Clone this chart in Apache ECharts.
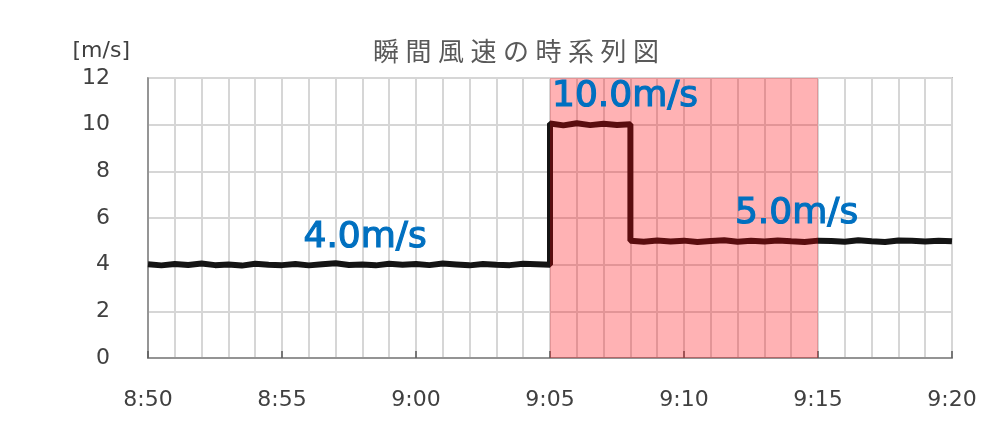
<!DOCTYPE html>
<html>
<head>
<meta charset="utf-8">
<script src="https://cdn.jsdelivr.net/npm/echarts@6/dist/echarts.min.js"></script>
<style>html,body{margin:0;padding:0;background:#fff;}#c{width:1001px;height:431px;}</style>
</head>
<body>
<div id="c"></div>
<script>
// minutes after 8:50
const times = [
  0,0.5,1,1.5,2,2.5,3,3.5,4,4.5,5,5.5,6,6.5,7,7.5,8,8.5,9,9.5,10,10.5,11,11.5,12,12.5,13,13.5,14,14.5,15,
  15,15.5,16,16.5,17,17.5,18,
  18,18.5,19,19.5,20,20.5,21,21.5,22,22.5,23,23.5,24,24.5,25,25.5,26,26.5,27,27.5,28,28.5,29,29.5,30
];
const speeds = [
  4.02,3.97,4.03,3.99,4.05,3.98,4.01,3.96,4.04,4.00,3.98,4.03,3.97,4.02,4.06,3.99,4.01,3.97,4.04,4.00,4.03,3.98,4.05,4.01,3.97,4.03,4.00,3.98,4.04,4.02,4.00,
  10.05,9.97,10.06,9.98,10.04,9.99,10.02,
  5.02,4.98,5.04,4.99,5.03,4.97,5.01,5.05,4.98,5.02,4.99,5.04,5.00,4.97,5.03,5.01,4.98,5.05,5.00,4.97,5.04,5.02,4.99,5.03,5.00
];
const xTickLabels = ['8:50','8:55','9:00','9:05','9:10','9:15','9:20'];
const highlightRange = [15, 25];
const annotations = [
  { text: '4.0m/s', x: 8.1, y: 5.15 },
  { text: '10.0m/s', x: 17.8, y: 11.2 },
  { text: '5.0m/s', x: 24.2, y: 6.2 }
];
const titleText = '瞬\u2005間\u2005風\u2005速\u2005の\u2005時\u2005系\u2005列\u2005図';

const chart = echarts.init(document.getElementById('c'), null, { renderer: 'canvas' });
const lineData = times.map((t, i) => [t, speeds[i]]);
const font = '"DejaVu Sans", sans-serif';

chart.setOption({
  animation: false,
  title: {
    text: titleText, left: 368, top: 33,
    textStyle: { fontFamily: '"Noto Sans CJK JP", sans-serif', fontSize: 26, fontWeight: 'normal', color: '#595959' }
  },
  grid: { left: 148, right: 49, top: 78, bottom: 73, show: true, borderColor: '#8c8c8c', borderWidth: 1.5, backgroundColor: 'transparent' },
  xAxis: {
    type: 'value', min: 0, max: 30, interval: 5,
    axisLine: { show: true, lineStyle: { color: '#7f7f7f', width: 1.5 } },
    axisTick: { show: true, inside: true, length: 7, lineStyle: { color: '#595959', width: 1.5 } },
    minorTick: { show: false, splitNumber: 5 },
    splitLine: { show: true, lineStyle: { color: '#d6d6d6', width: 2 } },
    minorSplitLine: { show: true, lineStyle: { color: '#d6d6d6', width: 2 } },
    axisLabel: {
      margin: 31, fontSize: 22, color: '#404040', fontFamily: font,
      formatter: v => xTickLabels[Math.round(v / 5)] || ''
    }
  },
  yAxis: {
    type: 'value', min: 0, max: 12, interval: 2,
    name: '[m/s]', nameLocation: 'end', nameGap: 16,
    nameTextStyle: { fontSize: 22, color: '#404040', fontFamily: font, align: 'right', padding: [0, 18, 0, 0] },
    axisLine: { show: true, lineStyle: { color: '#7f7f7f', width: 1.5 } },
    axisTick: { show: false },
    splitLine: { show: true, lineStyle: { color: '#d6d6d6', width: 2 } },
    axisLabel: { margin: 38, fontSize: 22, color: '#404040', fontFamily: font }
  },
  series: [
    {
      type: 'line', data: lineData, symbol: 'none', z: 3,
      lineStyle: { color: '#141414', width: 6 }
    },
    {
      type: 'line', data: [], z: 10, silent: true,
      markArea: {
        silent: true, z: 10,
        itemStyle: { color: 'rgba(255,0,8,0.3)' },
        data: [[{ xAxis: highlightRange[0], yAxis: 0 }, { xAxis: highlightRange[1], yAxis: 12 }]]
      }
    },
    {
      type: 'line', data: [], z: 20, silent: true,
      markPoint: {
        silent: true, z: 20, symbol: 'circle', symbolSize: 0,
        label: {
          show: true, position: 'inside', color: '#0070C0', fontSize: 36, fontWeight: 'normal',
          textBorderColor: '#0070C0', textBorderWidth: 1.2,
          fontFamily: font, formatter: p => p.name
        },
        data: annotations.map(a => ({ name: a.text, coord: [a.x, a.y] }))
      }
    }
  ]
});
</script>
</body>
</html>
